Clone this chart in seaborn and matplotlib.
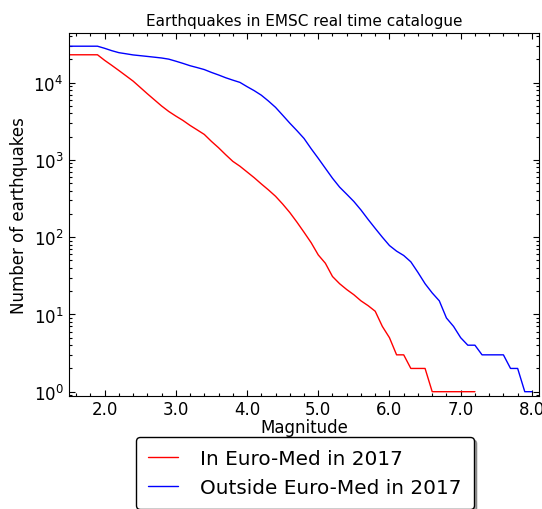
import numpy as np
import pandas as pd
import matplotlib
matplotlib.use("Agg")
import matplotlib.pyplot as plt
import matplotlib.ticker as mticker
import seaborn as sns

# ---- data ----
magnitudes = [1.5, 1.6, 1.7, 1.8, 1.9, 2.0, 2.1, 2.2, 2.3, 2.4, 2.5, 2.6, 2.7, 2.8, 2.9,
              3.0, 3.1, 3.2, 3.3, 3.4, 3.5, 3.6, 3.7, 3.8, 3.9, 4.0, 4.1, 4.2, 4.3, 4.4,
              4.5, 4.6, 4.7, 4.8, 4.9, 5.0, 5.1, 5.2, 5.3, 5.4, 5.5, 5.6, 5.7, 5.8, 5.9,
              6.0, 6.1, 6.2, 6.3, 6.4, 6.5, 6.6, 6.7, 6.8, 6.9, 7.0, 7.1, 7.2, 7.3, 7.4,
              7.5, 7.6, 7.7, 7.8, 7.9, 8.0]

in_euromed = [23000, 23000, 23000, 23000, 23000, 19500, 16800, 14400, 12300, 10500,
              8700, 7200, 6000, 5000, 4250, 3700, 3250, 2800, 2450, 2140,
              1740, 1440, 1170, 960, 830, 700, 590, 490, 410, 339,
              269, 209, 157, 116, 85, 59, 46, 31, 25, 21,
              18, 15, 13, 11, 7, 5, 3, 3, 2, 2,
              2, 1, 1, 1, 1, 1, 1, 1]

outside_euromed = [29700, 29700, 29700, 29700, 29700, 27900, 26000, 24500, 23700, 22900,
                   22400, 21900, 21400, 20900, 20200, 19000, 17800, 16600, 15700, 14800,
                   13600, 12600, 11600, 10800, 10100, 8900, 7900, 6900, 5800, 4800,
                   3800, 3000, 2400, 1900, 1400, 1050, 780, 580, 445, 360,
                   290, 225, 170, 130, 100, 78, 66, 58, 48, 35,
                   25, 19, 15, 9, 7, 5, 4, 4, 3, 3,
                   3, 3, 2, 2, 1, 1]

series_names = ["In Euro-Med in 2017", "Outside Euro-Med in 2017"]
colors = ["#ff0000", "#0000ff"]
x_ticks = [2.0, 3.0, 4.0, 5.0, 6.0, 7.0, 8.0]

df = pd.concat([
    pd.DataFrame({"Magnitude": magnitudes[:len(in_euromed)], "count": in_euromed,
                  "series": series_names[0]}),
    pd.DataFrame({"Magnitude": magnitudes, "count": outside_euromed,
                  "series": series_names[1]}),
], ignore_index=True)

sns.set_style("white", rc={
    "xtick.direction": "in", "ytick.direction": "in",
    "xtick.top": True, "ytick.right": True,
    "xtick.bottom": True, "ytick.left": True,
    "axes.edgecolor": "black", "axes.linewidth": 1.0,
    "xtick.color": "black", "ytick.color": "black",
    "text.color": "black", "axes.labelcolor": "black",
})
plt.rcParams["font.family"] = ["DejaVu Sans"]
plt.rcParams["font.size"] = 12

fig = plt.figure(figsize=(5.42, 5.10), dpi=100)
ax = fig.add_axes([0.1273, 0.2216, 0.8672, 0.7117])

sns.lineplot(data=df, x="Magnitude", y="count", hue="series", hue_order=series_names,
             palette=colors, estimator=None, linewidth=1.0, legend=False, ax=ax)

ax.set_yscale("log")
ax.set_xlim(1.5, 8.1)
ax.set_ylim(0.88, 44000)
ax.xaxis.set_major_locator(mticker.FixedLocator(x_ticks))
ax.xaxis.set_major_formatter(mticker.FormatStrFormatter("%.1f"))
ax.xaxis.set_minor_locator(mticker.MultipleLocator(0.2))
ax.yaxis.set_major_locator(mticker.LogLocator(base=10))
ax.yaxis.set_minor_locator(mticker.LogLocator(base=10, subs=np.arange(2, 10)))
ax.yaxis.set_minor_formatter(mticker.NullFormatter())
ax.tick_params(axis="both", which="both", direction="in", top=True, right=True,
               labelsize=12, colors="black")
ax.tick_params(axis="both", which="major", length=4, width=0.8)
ax.tick_params(axis="both", which="minor", length=2, width=0.8)
ax.tick_params(axis="x", which="major", pad=3)
ax.tick_params(axis="y", which="major", pad=4)

ax.set_xlabel("Magnitude", fontsize=12, labelpad=0)
ax.set_ylabel("Number of earthquakes", fontsize=12, labelpad=4)
ax.set_title("Earthquakes in EMSC real time catalogue", fontsize=11, pad=6,
             color="black")

handles = ax.get_lines()[:2]
leg = fig.legend(handles, series_names, loc="upper center",
                 bbox_to_anchor=(0.563, 0.141), fontsize=14.4, frameon=True,
                 fancybox=True, shadow=True, handlelength=1.5, handletextpad=1.1,
                 labelspacing=0.5, borderpad=0.6, borderaxespad=0)
leg.get_frame().set_edgecolor("black")
leg.get_frame().set_linewidth(1.0)

fig.savefig("out.png", dpi=100, facecolor="white")
